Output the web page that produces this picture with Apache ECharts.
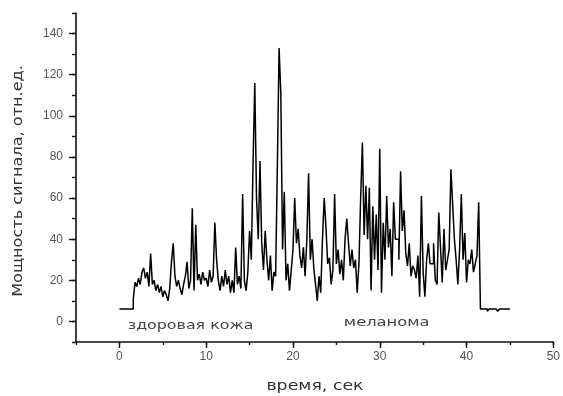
<!DOCTYPE html>
<html><head><meta charset="utf-8">
<script src="https://cdn.jsdelivr.net/npm/echarts@6/dist/echarts.min.js"></script>
<style>html,body{margin:0;padding:0;background:#fff}#c{width:563px;height:396px}</style>
</head><body><div id="c"></div>
<script>
const xTickLabels = [0, 10, 20, 30, 40, 50];
const yTickLabels = [0, 20, 40, 60, 80, 100, 120, 140];
const xTitle = 'время, сек';
const yTitle = 'Мощность сигнала, отн.ед.';
const regionLabels = ['здоровая кожа', 'меланома'];
const regionLabelAt = [[8.2, -2.2], [30.8, -0.6]];
const sampleStart = 0, sampleStep = 0.2;
const signal = [
 6,6,6,6,6,
 6,6,6,11,19,
 17,21,18,24,26,
 21,24,17,33,18,
 20,15,18,14,17,
 12,15,13,10,16,
 29,38,22,17,20,
 16,13,18,22,29,
 16,20,55,15,47,
 20,23,18,24,20,
 21,17,25,19,22,
 48,30,20,15,22,
 17,25,18,22,14,
 20,14,36,18,22,
 16,62,20,15,24,
 44,30,77,116,60,
 40,78,38,25,44,
 30,20,32,15,24,
 22,75,133,111,35,
 63,20,28,15,25,
 35,60,38,45,32,
 26,36,22,40,72,
 30,40,26,18,10,
 22,14,40,60,46,
 28,31,18,25,62,
 28,35,23,30,20,
 40,50,38,27,35,
 26,30,14,28,60,
 87,42,66,40,65,
 15,56,30,52,25,
 84,14,48,30,61,
 36,45,22,58,40,
 40,30,73,44,54,
 33,27,38,22,27,
 25,21,32,12,61,
 24,12,30,38,28,
 28,38,20,18,53,
 36,19,45,25,30,
 35,74,57,40,30,
 18,35,62,30,43,
 19,30,28,35,24,
 28,32,58,6,6,
 6,6,5,6,6,
 6,6,6,5,6,
 6,6,6,6,6,
 6
];
const times = signal.map((_, i) => +(sampleStart + i * sampleStep).toFixed(2));

const chart = echarts.init(document.getElementById('c'), null, {renderer: 'canvas'});
const axisColor = '#111';
const labelFont = {fontFamily: 'Liberation Sans', fontSize: 12, color: '#555'};
chart.setOption({
  animation: false,
  backgroundColor: '#fff',
  grid: {left: 76, right: 7, top: 13, bottom: 54, containLabel: false},
  xAxis: [
    {type: 'value', min: -5, max: 50, interval: 5, splitLine: {show: false},
     axisLine: {onZero: false, lineStyle: {color: axisColor, width: 1.6}},
     axisTick: {length: 3, lineStyle: {color: axisColor, width: 1.4}},
     axisLabel: {show: false}},
    {type: 'value', min: -5, max: 50, position: 'bottom', splitLine: {show: false},
     axisLine: {show: false, onZero: false},
     axisTick: {length: 6, customValues: xTickLabels, lineStyle: {color: axisColor, width: 1.4}},
     axisLabel: Object.assign({customValues: xTickLabels, margin: 9}, labelFont)}
  ],
  yAxis: [
    {type: 'value', min: -10, max: 150, interval: 10, splitLine: {show: false},
     axisLine: {show: true, onZero: false, lineStyle: {color: axisColor, width: 1.6}},
     axisTick: {show: true, length: 4, lineStyle: {color: axisColor, width: 1.4}},
     axisLabel: {show: false}},
    {type: 'value', min: -10, max: 150, position: 'left', splitLine: {show: false},
     axisLine: {show: false, onZero: false},
     axisTick: {show: true, length: 7, customValues: yTickLabels, lineStyle: {color: axisColor, width: 1.4}},
     axisLabel: Object.assign({customValues: yTickLabels, margin: 13}, labelFont)}
  ],
  series: [{
    type: 'line', step: 'end', xAxisIndex: 0, yAxisIndex: 0,
    symbol: 'none', lineStyle: {color: '#000', width: 1.5},
    data: times.map((t, i) => [t, signal[i]])
  }]
});

const p1 = chart.convertToPixel({xAxisIndex: 0, yAxisIndex: 0}, regionLabelAt[0]);
const p2 = chart.convertToPixel({xAxisIndex: 0, yAxisIndex: 0}, regionLabelAt[1]);
chart.setOption({
  graphic: [
    {type: 'text', x: 18, y: 181, rotation: Math.PI / 2, scaleX: 1.15,
     style: {text: yTitle, font: '14px "DejaVu Sans"', fill: '#333', align: 'center', verticalAlign: 'middle'}},
    {type: 'text', x: 315, y: 386, scaleX: 1.24,
     style: {text: xTitle, font: '14px "DejaVu Sans"', fill: '#333', align: 'center', verticalAlign: 'middle'}},
    {type: 'text', x: p1[0], y: p1[1], scaleX: 1.32,
     style: {text: regionLabels[0], font: '12px "DejaVu Sans"', fill: '#444', align: 'center', verticalAlign: 'middle'}},
    {type: 'text', x: p2[0], y: p2[1], scaleX: 1.36,
     style: {text: regionLabels[1], font: '12px "DejaVu Sans"', fill: '#444', align: 'center', verticalAlign: 'middle'}}
  ]
});
</script>
</body></html>
